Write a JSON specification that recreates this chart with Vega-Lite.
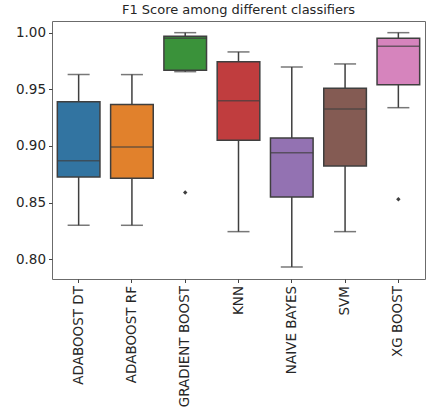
{
  "$schema": "https://vega.github.io/schema/vega-lite/v6.json",
  "autosize": "none",
  "padding": {"left": 52, "top": 21, "right": 7, "bottom": 131},
  "width": 373,
  "height": 258,
  "background": "white",
  "title": {"text": "F1 Score among different classifiers", "fontSize": 13, "fontWeight": "normal", "font": "DejaVu Sans", "color": "#262626", "offset": 4},
  "config": {
    "view": {"stroke": "#6b6b6b", "strokeWidth": 1},
    "axis": {"grid": false, "domain": false, "labelFont": "DejaVu Sans", "labelFontSize": 13.5, "labelColor": "#262626", "tickColor": "#444444", "tickSize": 3.5, "title": null}
  },
  "datasets": {
    "boxes": [
      {"clf": "ADABOOST DT", "lo": 0.830, "q1": 0.8726, "med": 0.887, "q3": 0.939, "hi": 0.963},
      {"clf": "ADABOOST RF", "lo": 0.830, "q1": 0.8715, "med": 0.899, "q3": 0.9365, "hi": 0.963},
      {"clf": "GRADIENT BOOST", "lo": 0.9656, "q1": 0.9668, "med": 0.995, "q3": 0.9968, "hi": 1.000},
      {"clf": "KNN", "lo": 0.8244, "q1": 0.905, "med": 0.940, "q3": 0.9744, "hi": 0.983},
      {"clf": "NAIVE BAYES", "lo": 0.7932, "q1": 0.855, "med": 0.894, "q3": 0.907, "hi": 0.9697},
      {"clf": "SVM", "lo": 0.8244, "q1": 0.8824, "med": 0.9326, "q3": 0.951, "hi": 0.9724},
      {"clf": "XG BOOST", "lo": 0.9338, "q1": 0.954, "med": 0.988, "q3": 0.995, "hi": 1.000}
    ],
    "outliers": [
      {"clf": "GRADIENT BOOST", "v": 0.859},
      {"clf": "XG BOOST", "v": 0.853}
    ]
  },
  "encoding": {
    "x": {"field": "clf", "type": "nominal", "sort": null,
          "scale": {"domain": ["ADABOOST DT", "ADABOOST RF", "GRADIENT BOOST", "KNN", "NAIVE BAYES", "SVM", "XG BOOST"], "paddingInner": 0, "paddingOuter": 0},
          "axis": {"labelAngle": -90, "labelAlign": "right", "labelBaseline": "middle", "labelPadding": 3}}
  },
  "layer": [
    {
      "data": {"name": "boxes"},
      "mark": {"type": "rule", "color": "#3f3f3f", "strokeWidth": 1.5},
      "encoding": {
        "y": {"field": "lo", "type": "quantitative", "scale": {"domain": [0.7826, 1.0103], "nice": false, "zero": false},
              "axis": {"values": [0.80, 0.85, 0.90, 0.95, 1.00], "format": ".2f", "labelPadding": 3}},
        "y2": {"field": "q1"}
      }
    },
    {
      "data": {"name": "boxes"},
      "mark": {"type": "rule", "color": "#3f3f3f", "strokeWidth": 1.5},
      "encoding": {
        "y": {"field": "q3", "type": "quantitative"},
        "y2": {"field": "hi"}
      }
    },
    {
      "data": {"name": "boxes"},
      "mark": {"type": "tick", "color": "#3f3f3f", "size": 22, "thickness": 1.5},
      "encoding": {"y": {"field": "lo", "type": "quantitative"}}
    },
    {
      "data": {"name": "boxes"},
      "mark": {"type": "tick", "color": "#3f3f3f", "size": 22, "thickness": 1.5},
      "encoding": {"y": {"field": "hi", "type": "quantitative"}}
    },
    {
      "data": {"name": "boxes"},
      "mark": {"type": "bar", "width": {"band": 0.8}, "stroke": "#3f3f3f", "strokeWidth": 1.5, "opacity": 1},
      "encoding": {
        "y": {"field": "q1", "type": "quantitative"},
        "y2": {"field": "q3"},
        "color": {"field": "clf", "type": "nominal", "legend": null,
                  "scale": {"domain": ["ADABOOST DT", "ADABOOST RF", "GRADIENT BOOST", "KNN", "NAIVE BAYES", "SVM", "XG BOOST"],
                            "range": ["#3274a1", "#e1812c", "#3a923a", "#c03d3e", "#9372b2", "#845b53", "#d684bd"]}}
      }
    },
    {
      "data": {"name": "boxes"},
      "mark": {"type": "tick", "color": "#3f3f3f", "size": 42.6, "thickness": 1.5},
      "encoding": {"y": {"field": "med", "type": "quantitative"}}
    },
    {
      "data": {"name": "outliers"},
      "mark": {"type": "point", "filled": true, "color": "#3f3f3f", "size": 20, "shape": "diamond", "opacity": 1},
      "encoding": {"y": {"field": "v", "type": "quantitative"}}
    }
  ]
}
